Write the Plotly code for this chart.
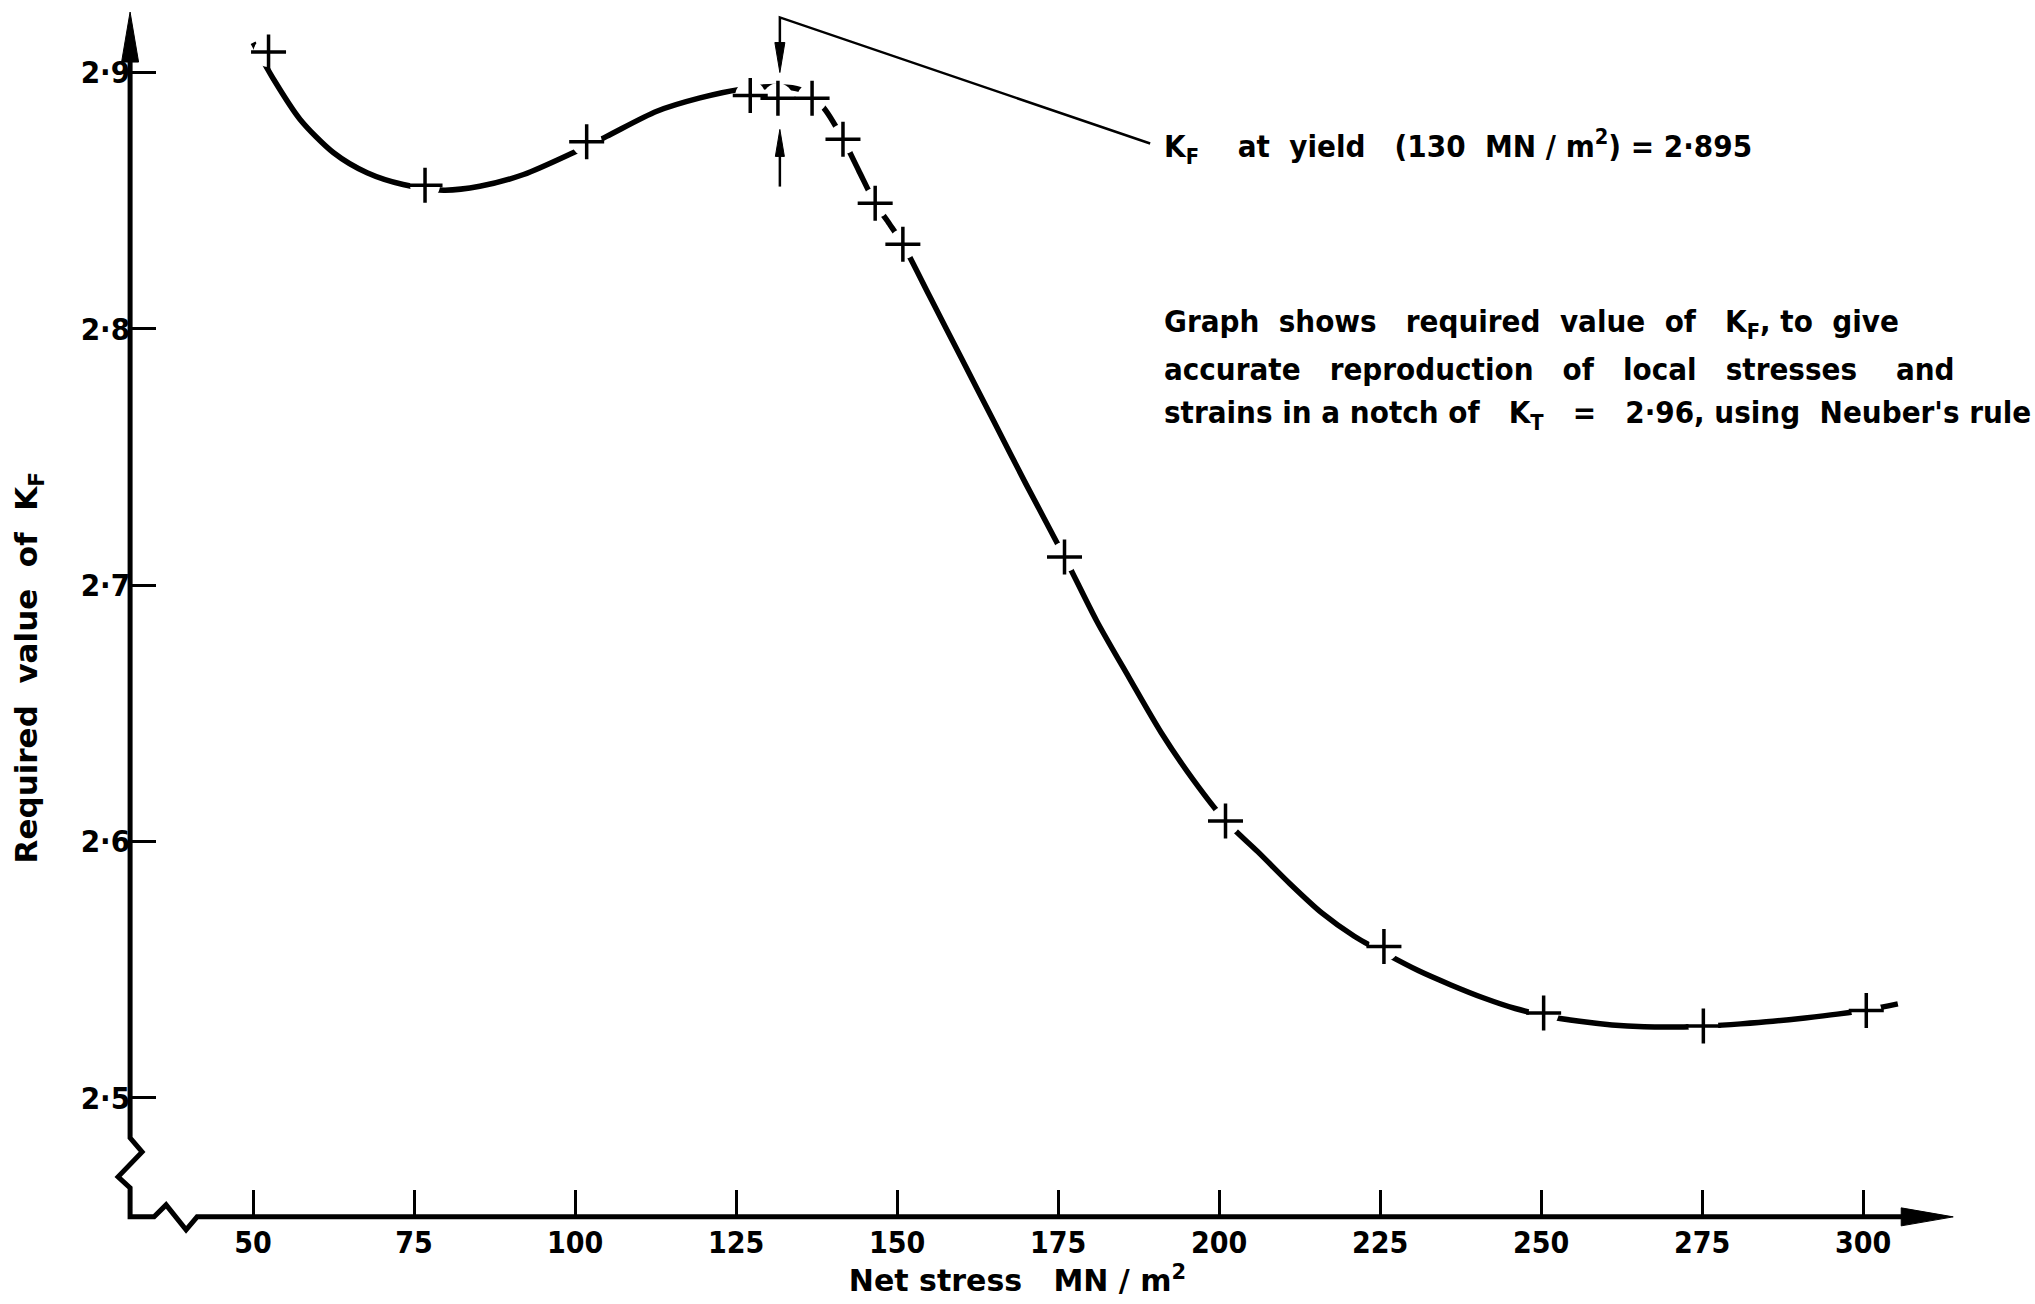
import plotly.graph_objects as go

# ---------------- data ----------------
# measured points (crosses)
STRESS_PTS = [52.4, 76.7, 101.8, 127.2, 131.5, 136.8, 141.6, 146.6, 150.9,
              176.0, 201.0, 225.6, 250.4, 275.2, 300.5]
KF_PTS = [2.908, 2.856, 2.873, 2.891, 2.890, 2.890, 2.874, 2.849, 2.833,
          2.711, 2.608, 2.559, 2.533, 2.528, 2.534]

# hand-drawn curve through the points
CURVE_STRESS = [50.0, 53.2, 57.3, 62.5, 67.7, 73.3, 79.6, 85.2, 92.0, 99.7,
                104.9, 112.7, 119.4, 125.6, 131.8, 134.9, 138.5, 141.6, 144.0,
                146.6, 148.8, 150.9, 155.0, 160.0, 165.0, 170.0, 176.0,
                181.0, 186.0, 191.0, 196.0, 201.0, 206.0, 211.0, 216.0, 221.0,
                226.0, 231.0, 236.0, 241.0, 246.0, 251.0, 256.0, 261.0, 266.0,
                271.0, 276.0, 281.0, 286.0, 291.0, 296.0, 301.0, 305.4]
CURVE_KF = [2.9116, 2.8973, 2.8817, 2.8687, 2.8609, 2.8563, 2.8541, 2.8556,
            2.8602, 2.8687, 2.8751, 2.8849, 2.8901, 2.8934, 2.8945, 2.8934,
            2.8865, 2.8740, 2.8620, 2.8490, 2.8410, 2.8330, 2.8130, 2.7885,
            2.7640, 2.7395, 2.7110,
            2.6860, 2.6640, 2.6425, 2.6240, 2.6080, 2.5960, 2.5835, 2.5720,
            2.5630, 2.5560, 2.5495, 2.5440, 2.5390, 2.5348, 2.5318, 2.5298,
            2.5284, 2.5277, 2.5276, 2.5280, 2.5288, 2.5298, 2.5311, 2.5326,
            2.5344, 2.5366]

X_TICKS = [50, 75, 100, 125, 150, 175, 200, 225, 250, 275, 300]
X_TICK_LABELS = ["50", "75", "100", "125", "150", "175", "200", "225", "250", "275", "300"]
Y_TICKS = [2.5, 2.6, 2.7, 2.8, 2.9]
Y_TICK_LABELS = ["2·5", "2·6", "2·7", "2·8", "2·9"]

# yield marker and leader
YIELD_STRESS = 131.8
YIELD_LEADER_TOP = 2.9215
YIELD_DOWN_TIP = 2.900
YIELD_UP_TIP = 2.8778
YIELD_UP_TAIL = 2.8555
LEADER_END = (189.3, 2.8723)

# ---------------- geometry ----------------
W, H = 2035, 1304
X_RANGE = [10.7, 326.7]
Y_RANGE = [2.4195, 2.9283]
PPX = W / (X_RANGE[1] - X_RANGE[0])
PPY = H / (Y_RANGE[1] - Y_RANGE[0])


def dx(px):
    return px / PPX


def dy(px):
    return px / PPY


X_AX = 30.9        # stress value where the K_F axis stands
Y_AX = 2.4535      # K_F value where the stress axis stands
Y_AX_TOP = 2.9236  # top of the K_F axis arrow
X_AX_END = 314.0   # end of the stress axis arrow

FONT_C = "DejaVu Sans Condensed, Liberation Sans Narrow, Arial Narrow, sans-serif"
FONT_W = "DejaVu Sans, Verdana, sans-serif"

fig = go.Figure()

# axis lines with breaks
ax_x = [X_AX, X_AX, X_AX + dx(12), X_AX - dx(12), X_AX, X_AX,
        X_AX + dx(24), X_AX + dx(36), X_AX + dx(56), X_AX + dx(67), X_AX_END - dx(20)]
ax_y = [Y_AX_TOP - dy(20), Y_AX + dy(79), Y_AX + dy(65), Y_AX + dy(40), Y_AX + dy(29), Y_AX,
        Y_AX, Y_AX + dy(12), Y_AX - dy(13), Y_AX, Y_AX]
fig.add_trace(go.Scatter(x=ax_x, y=ax_y, mode="lines",
                         line=dict(color="black", width=5),
                         hoverinfo="skip", showlegend=False))


def arrow_head(tip_x, tip_y, direction, length_px, half_px):
    if direction == "up":
        xs = [tip_x, tip_x - dx(half_px), tip_x + dx(half_px), tip_x]
        ys = [tip_y, tip_y - dy(length_px), tip_y - dy(length_px), tip_y]
    elif direction == "down":
        xs = [tip_x, tip_x - dx(half_px), tip_x + dx(half_px), tip_x]
        ys = [tip_y, tip_y + dy(length_px), tip_y + dy(length_px), tip_y]
    else:  # right
        xs = [tip_x, tip_x - dx(length_px), tip_x - dx(length_px), tip_x]
        ys = [tip_y, tip_y + dy(half_px), tip_y - dy(half_px), tip_y]
    return go.Scatter(x=xs, y=ys, mode="lines", fill="toself", fillcolor="black",
                      line=dict(color="black", width=1),
                      hoverinfo="skip", showlegend=False)


fig.add_trace(arrow_head(X_AX, Y_AX_TOP, "up", 50, 8.5))
fig.add_trace(arrow_head(X_AX_END, Y_AX, "right", 52, 9))

# the curve
fig.add_trace(go.Scatter(x=CURVE_STRESS, y=CURVE_KF, mode="lines",
                         line=dict(color="black", width=5.5, shape="spline", smoothing=0.8),
                         hoverinfo="skip", showlegend=False))
# gaps around the crosses
fig.add_trace(go.Scatter(x=STRESS_PTS, y=KF_PTS, mode="markers",
                         marker=dict(symbol="circle", size=30, color="white", line=dict(width=0)),
                         hoverinfo="skip", showlegend=False))
# crosses
fig.add_trace(go.Scatter(x=STRESS_PTS, y=KF_PTS, mode="markers",
                         marker=dict(symbol="cross-thin", size=25,
                                     line=dict(color="black", width=3.5)),
                         name="Required K_F", showlegend=False))

# yield leader and arrows
fig.add_trace(go.Scatter(
    x=[YIELD_STRESS, YIELD_STRESS, LEADER_END[0], None, YIELD_STRESS, YIELD_STRESS],
    y=[YIELD_DOWN_TIP + dy(20), YIELD_LEADER_TOP, LEADER_END[1], None, YIELD_UP_TAIL, YIELD_UP_TIP - dy(15)],
    mode="lines", line=dict(color="black", width=2.5),
    hoverinfo="skip", showlegend=False))
fig.add_trace(arrow_head(YIELD_STRESS, YIELD_DOWN_TIP, "down", 30, 5))
fig.add_trace(arrow_head(YIELD_STRESS, YIELD_UP_TIP, "up", 27, 4.5))

pos_y_axis = (X_AX - X_RANGE[0]) / (X_RANGE[1] - X_RANGE[0])
pos_x_axis = (Y_AX - Y_RANGE[0]) / (Y_RANGE[1] - Y_RANGE[0])

fig.update_layout(
    width=W, height=H,
    margin=dict(l=0, r=0, t=0, b=0, pad=0),
    paper_bgcolor="white", plot_bgcolor="white",
    showlegend=False,
    xaxis=dict(range=X_RANGE, domain=[0, 1], anchor="free", position=pos_x_axis,
               showgrid=False, zeroline=False, showline=False,
               tickmode="array", tickvals=X_TICKS, ticktext=X_TICK_LABELS,
               ticks="inside", ticklen=27, tickwidth=3, tickcolor="black",
               ticklabelstandoff=5,
               tickfont=dict(family=FONT_C, size=30, color="black", weight="bold"),
               title=dict(text="Net&nbsp;stress&nbsp;&nbsp;&nbsp;MN / m<sup>2</sup>",
                          font=dict(family=FONT_W, size=30, color="black", weight="bold"),
                          standoff=9)),
    yaxis=dict(range=Y_RANGE, domain=[0, 1], anchor="free", position=pos_y_axis,
               showgrid=False, zeroline=False, showline=False,
               tickmode="array", tickvals=Y_TICKS, ticktext=Y_TICK_LABELS,
               ticks="inside", ticklen=25, tickwidth=3, tickcolor="black",
               tickfont=dict(family=FONT_C, size=31, color="black", weight="bold")),
)

# y-axis title placed where the reference has it
fig.add_annotation(x=15.1, y=2.668, xref="x", yref="y", xanchor="center", yanchor="middle",
                   textangle=-90,
                   text="Required&nbsp;&nbsp;value&nbsp;&nbsp;of&nbsp;&nbsp;K<sub>F</sub>",
                   showarrow=False,
                   font=dict(family=FONT_W, size=31, color="black", weight="bold"))

ann_font = dict(family=FONT_C, size=31, color="black", weight="bold")
fig.add_annotation(x=191.1, y=2.8711, xref="x", yref="y", xanchor="left", yanchor="middle",
                   text="K<sub>F</sub>&nbsp;&nbsp;&nbsp; at&nbsp; yield&nbsp;&nbsp; (130&nbsp; MN / m<sup>2</sup>) = 2·895",
                   showarrow=False, font=ann_font)
NOTE_LINES = ["Graph&nbsp; shows&nbsp;&nbsp; required&nbsp; value&nbsp; of&nbsp;&nbsp; K<sub>F</sub>, to&nbsp; give",
              "accurate&nbsp;&nbsp; reproduction&nbsp;&nbsp; of&nbsp;&nbsp; local&nbsp;&nbsp; stresses&nbsp;&nbsp;&nbsp; and",
              "strains in a notch of&nbsp;&nbsp; K<sub>T</sub>&nbsp;&nbsp; =&nbsp;&nbsp; 2·96, using&nbsp; Neuber's rule"]
NOTE_Y = [2.8019, 2.7843, 2.7664]
for line, yv in zip(NOTE_LINES, NOTE_Y):
    fig.add_annotation(x=191.1, y=yv, xref="x", yref="y", xanchor="left", yanchor="middle",
                       text=line, showarrow=False, font=ann_font)

fig.write_html("out.html", config={"displayModeBar": False},
               post_script="document.body.style.margin='0px';document.body.style.overflow='hidden';")
